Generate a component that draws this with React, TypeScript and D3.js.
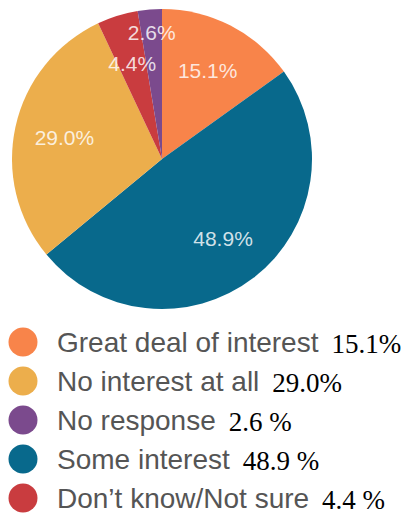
import React from "react";
import * as d3 from "d3";

const pieCategories = ["Great deal of interest", "Some interest", "No interest at all", "Don't know/Not sure", "No response"];
const pieValues = [15.1, 48.9, 29.0, 4.4, 2.6];
const pieColors = ["#F8844A", "#08698C", "#ECAE4C", "#C93C3F", "#7B4A8D"];

const legendCategories = ["Great deal of interest", "No interest at all", "No response", "Some interest", "Don\u2019t know/Not sure"];
const legendValueLabels = ["15.1%", "29.0%", "2.6 %", "48.9 %", "4.4 %"];
const legendColors = ["#F8844A", "#ECAE4C", "#7B4A8D", "#08698C", "#C93C3F"];

const W = 408;
const H = 514;

export default function App() {
  const cx = 162;
  const cy = 159;
  const R = 150;
  const pie = d3.pie<number>().value((d) => d).sort(null);
  const arcs = pie(pieValues);
  const arc = d3.arc<d3.PieArcDatum<number>>().innerRadius(0).outerRadius(R);
  const labelArc = d3.arc<d3.PieArcDatum<number>>().innerRadius(100).outerRadius(100);
  const outerLabelArc = d3.arc<d3.PieArcDatum<number>>().innerRadius(127).outerRadius(127);

  const legendY = d3.scaleLinear().domain([0, legendCategories.length - 1]).range([342, 498]);

  return (
    <svg width={W} height={H} style={{ position: "absolute", left: 0, top: 0, background: "#fff" }}>
      <g transform={`translate(${cx},${cy})`}>
        {arcs.map((a, i) => (
          <path key={i} d={arc(a) || ""} fill={pieColors[i]} />
        ))}
        {arcs.map((a, i) => {
          const [x, y] = (pieValues[i] < 3 ? outerLabelArc : labelArc).centroid(a);
          return (
            <text
              key={i}
              x={x}
              y={y}
              dy="0.36em"
              textAnchor="middle"
              fill="#fff"
              fillOpacity={0.82}
              fontFamily="Liberation Sans, Arial, sans-serif"
              fontSize={21}
            >
              {pieValues[i].toFixed(1) + "%"}
            </text>
          );
        })}
      </g>
      {legendCategories.map((c, i) => {
        const y = legendY(i);
        return (
          <g key={c}>
            <circle cx={23} cy={y} r={14.5} fill={legendColors[i]} />
            <text x={57} y={y + 9.5} fontSize={28}>
              <tspan fill="#555" fontFamily="Liberation Sans, Arial, sans-serif">
                {c}
              </tspan>
              <tspan dx={13} dy={1} fill="#000" fontFamily="Liberation Serif, Times New Roman, serif" fontSize={27}>
                {legendValueLabels[i]}
              </tspan>
            </text>
          </g>
        );
      })}
    </svg>
  );
}
